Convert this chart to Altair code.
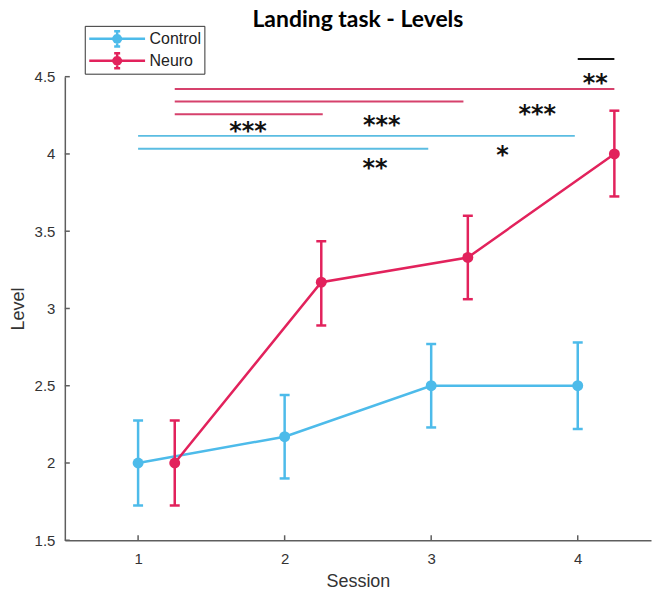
import math
import altair as alt
import pandas as pd

# ---------------- data ----------------
title_text = "Landing task - Levels"
sessions = [1, 2, 3, 4]
groups = ["Control", "Neuro"]
control_mean = [2.0, 2.17, 2.5, 2.5]
control_low = [1.725, 1.90, 2.23, 2.22]
control_high = [2.275, 2.44, 2.77, 2.78]
neuro_mean = [2.0, 3.17, 3.33, 4.0]
neuro_low = [1.725, 2.89, 3.06, 3.725]
neuro_high = [2.275, 3.435, 3.60, 4.28]
neuro_shift = 0.25  # Neuro points are drawn shifted right of the session

# significance brackets
sig_x1 = [4.0, 1.25, 1.25, 1.25, 1.0, 1.0]
sig_x2 = [4.25, 4.25, 3.22, 2.26, 3.98, 2.98]
sig_y = [4.614, 4.42, 4.339, 4.257, 4.117, 4.033]
sig_group = ["Between", "Neuro", "Neuro", "Neuro", "Control", "Control"]

# significance stars
star_x = [4.12, 1.75, 2.663, 3.724, 3.486, 2.616]
star_y = [4.50, 4.184, 4.229, 4.30, 4.03, 3.945]
star_text = ["**", "***", "***", "***", "*", "**"]

y_ticks = [1.5, 2, 2.5, 3, 3.5, 4, 4.5]
x_ticks = [1, 2, 3, 4]

# ---------------- styles ----------------
BLUE = "#4DBBEA"
RED = "#E2225C"
SIG_BLUE = "#5BBDE2"
SIG_RED = "#D6416C"
AXIS = "#5e5e5e"
W, H = 588, 465

rows = []
for i, s in enumerate(sessions):
    rows.append(dict(group="Control", x=s, mean=control_mean[i],
                     low=control_low[i], high=control_high[i]))
for i, s in enumerate(sessions):
    rows.append(dict(group="Neuro", x=s + neuro_shift, mean=neuro_mean[i],
                     low=neuro_low[i], high=neuro_high[i]))
df = pd.DataFrame(rows)
sig_df = pd.DataFrame(dict(x1=sig_x1, x2=sig_x2, y=sig_y, group=sig_group))
star_df = pd.DataFrame(dict(x=star_x, y=star_y, t=star_text))
ytick_df = pd.DataFrame(dict(v=y_ticks))
xtick_df = pd.DataFrame(dict(v=x_ticks))
title_df = pd.DataFrame(dict(t=[title_text]))

xs = alt.Scale(domain=[0.5, 4.5], nice=False, zero=False)
ys = alt.Scale(domain=[1.5, 4.5], nice=False, zero=False)
cs = alt.Scale(domain=groups, range=[BLUE, RED])

x_axis = alt.Axis(title="Session", values=x_ticks, format="~g",
                  labelPadding=11, titlePadding=6)
y_axis = alt.Axis(title="Level", values=y_ticks, format="~g",
                  labelPadding=10, titlePadding=7)


def X(f):
    return alt.X(f, type="quantitative", scale=xs, axis=x_axis)


def Y(f):
    return alt.Y(f, type="quantitative", scale=ys, axis=y_axis)


def polygon(cx, r, n=10):
    pts = []
    for k in range(n):
        a = 2 * math.pi * (k + 0.5) / n
        pts.append(f"{cx + r * math.cos(a):.3f},{r * math.sin(a):.3f}")
    return "M" + "L".join(pts) + "Z"


# legend glyph: line + error bar + filled-looking marker (stroked polygons)
SYMBOL = ("M-1,0H6"
          "M2.5,-0.95V0.95M2.125,-0.95H2.875M2.125,0.95H2.875"
          + polygon(2.5, 0.47) + polygon(2.5, 0.17, 6))

legend = alt.Legend(
    title=None, orient="none", legendX=20, legendY=-51, direction="vertical",
    symbolType=SYMBOL, symbolSize=256, symbolStrokeWidth=2.5,
    symbolOpacity=1, clipHeight=20,
    labelOffset=43, labelFont="Liberation Sans", labelFontSize=16,
    labelColor="#222", padding=3, rowPadding=2, strokeColor="#333",
)

base = alt.Chart(df)
lines = base.mark_line(strokeWidth=2.5).encode(
    x=X("x"), y=Y("mean"),
    color=alt.Color("group:N", scale=cs, legend=legend),
)
err = base.mark_rule(strokeWidth=2.5).encode(
    x=X("x"), y=Y("low"), y2="high",
    color=alt.Color("group:N", scale=cs, legend=None),
)
cap_lo = base.mark_tick(orient="horizontal", size=10, thickness=2.5, opacity=1).encode(
    x=X("x"), y=Y("low"), color=alt.Color("group:N", scale=cs, legend=None),
)
cap_hi = base.mark_tick(orient="horizontal", size=10, thickness=2.5, opacity=1).encode(
    x=X("x"), y=Y("high"), color=alt.Color("group:N", scale=cs, legend=None),
)
pts = base.mark_circle(size=120, opacity=1).encode(
    x=X("x"), y=Y("mean"),
    color=alt.Color("group:N", scale=cs, legend=None),
)

sig_base = alt.Chart(sig_df)
sig_layers = []
for g, col in [("Control", SIG_BLUE), ("Neuro", SIG_RED), ("Between", "#111111")]:
    sig_layers.append(
        sig_base.transform_filter(alt.datum.group == g)
        .mark_rule(strokeWidth=2, color=col)
        .encode(x=X("x1"), x2="x2", y=Y("y"))
    )

stars = alt.Chart(star_df).mark_text(
    font="DejaVu Sans", fontWeight="bold", fontSize=24, color="#111",
    align="center", baseline="alphabetic", dy=14,
).encode(x=X("x"), y=Y("y"), text="t:N")

yt = alt.Chart(ytick_df).mark_rule(color=AXIS, strokeWidth=1.5).encode(
    y=Y("v"), x=alt.value(0), x2=alt.value(5))
xt = alt.Chart(xtick_df).mark_rule(color=AXIS, strokeWidth=1.5).encode(
    x=X("v"), y=alt.value(H), y2=alt.value(H - 5))

title = alt.Chart(title_df).mark_text(
    font="Lato", fontSize=23, fontWeight="bold", color="#000",
    align="center", baseline="alphabetic",
).encode(text="t:N", x=alt.value(W / 2), y=alt.value(-50))

chart = alt.layer(
    yt, xt, *sig_layers, stars, lines, err, cap_lo, cap_hi, pts, title
).properties(
    width=W, height=H,
    autosize=alt.AutoSizeParams(type="none"),
    padding={"left": 57, "top": 68, "right": 2, "bottom": 50},
).configure_view(stroke=None).configure_axis(
    grid=False, ticks=False, tickSize=0,
    domainColor=AXIS, domainWidth=1.5,
    labelFont="Liberation Sans", labelFontSize=15, labelColor="#333",
    titleFont="Liberation Sans", titleFontSize=18, titleFontWeight="normal",
    titleColor="#333",
)

chart.save("out.html", embed_options={"renderer": "svg", "actions": False})
